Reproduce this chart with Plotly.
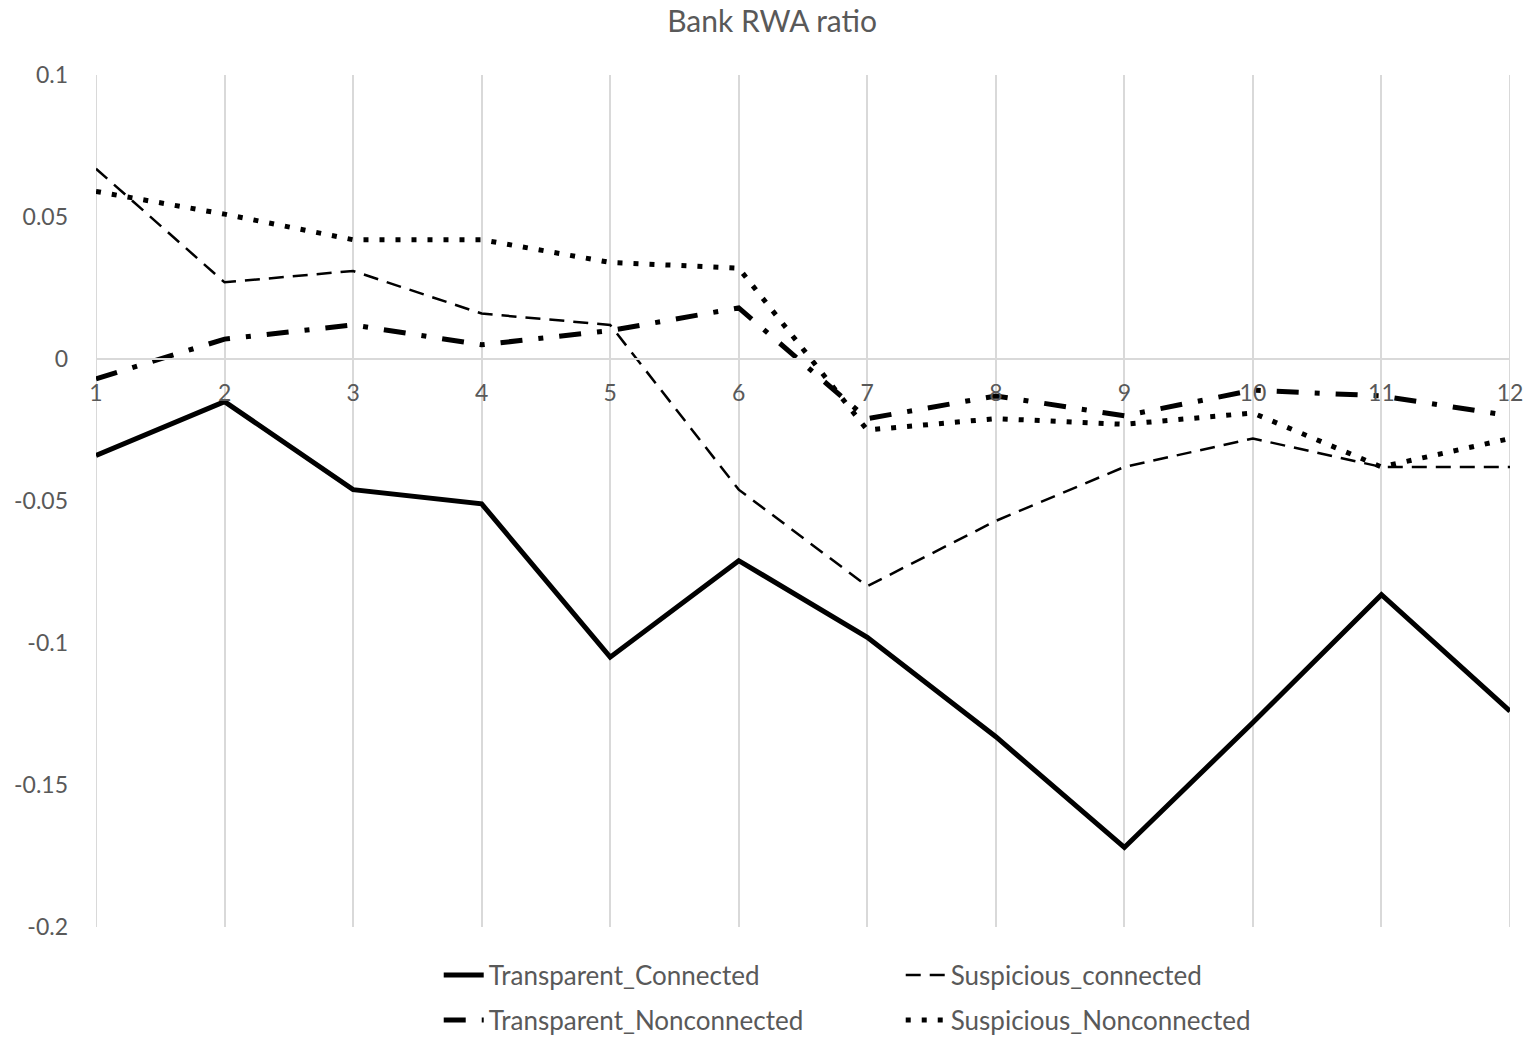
import plotly.graph_objects as go

# Period index on the x axis
periods = list(range(1, 13))
x_tick_labels = [str(p) for p in periods]

# Bank RWA ratio by group
transparent_connected = [-0.034, -0.015, -0.046, -0.051, -0.105, -0.071,
                         -0.098, -0.133, -0.172, -0.128, -0.083, -0.124]
suspicious_connected = [0.067, 0.027, 0.031, 0.016, 0.012, -0.046,
                        -0.080, -0.057, -0.038, -0.028, -0.038, -0.038]
transparent_nonconnected = [-0.007, 0.007, 0.012, 0.005, 0.010, 0.018,
                            -0.021, -0.013, -0.020, -0.011, -0.013, -0.020]
suspicious_nonconnected = [0.059, 0.051, 0.042, 0.042, 0.034, 0.032,
                           -0.025, -0.021, -0.023, -0.019, -0.038, -0.028]

y_ticks = [-0.2, -0.15, -0.1, -0.05, 0, 0.05, 0.1]
y_tick_labels = ["-0.2", "-0.15", "-0.1", "-0.05", "0", "0.05", "0.1"]

FONT = "Lato"
GREY = "#595959"
GRID = "#d9d9d9"

fig = go.Figure()

fig.add_trace(go.Scatter(
    x=periods, y=transparent_connected, mode="lines", name="Transparent_Connected",
    line=dict(color="black", width=5), legend="legend"))
fig.add_trace(go.Scatter(
    x=periods, y=suspicious_connected, mode="lines", name="Suspicious_connected",
    line=dict(color="black", width=2.5, dash="15px,9px"), legend="legend"))
fig.add_trace(go.Scatter(
    x=periods, y=transparent_nonconnected, mode="lines", name="Transparent_Nonconnected",
    line=dict(color="black", width=5, dash="22px,16px,5px,16px"), legend="legend2"))
fig.add_trace(go.Scatter(
    x=periods, y=suspicious_nonconnected, mode="lines", name="Suspicious_Nonconnected",
    line=dict(color="black", width=5, dash="5px,11px"), legend="legend2"))

# Gridlines on the first and last period sit on the plot edges; draw them in full
for edge in (periods[0], periods[-1]):
    fig.add_vline(x=edge, line=dict(color=GRID, width=2), layer="below")

y_min, y_max = -0.2, 0.1
zero_pos = (0 - y_min) / (y_max - y_min)

legend_style = dict(
    orientation="h", xref="container", yref="container",
    xanchor="left", yanchor="middle", x=0.2875,
    entrywidth=407, entrywidthmode="pixels", itemwidth=40,
    font=dict(family=FONT, size=26, color=GREY), bgcolor="rgba(0,0,0,0)",
    tracegroupgap=0)

fig.update_layout(
    width=1526, height=1037,
    margin=dict(l=96, r=16, t=75, b=110),
    paper_bgcolor="white", plot_bgcolor="white",
    title=dict(text="Bank RWA ratio", x=0.506, xanchor="center", y=0.979, yanchor="middle",
               font=dict(family=FONT, size=30, color=GREY)),
    font=dict(family=FONT, color=GREY),
    showlegend=True,
    legend=dict(legend_style, y=1 - 975 / 1037),
    legend2=dict(legend_style, y=1 - 1020 / 1037),
    xaxis=dict(
        range=[1, 12], tickmode="array", tickvals=periods, ticktext=x_tick_labels,
        showgrid=True, gridcolor=GRID, gridwidth=1.5,
        showline=True, linecolor=GRID, linewidth=2,
        anchor="free", position=zero_pos, ticks="", ticklabelstandoff=13,
        zeroline=False, automargin=False,
        tickfont=dict(family=FONT, size=23, color=GREY)),
    yaxis=dict(
        range=[y_min, y_max], tickmode="array", tickvals=y_ticks, ticktext=y_tick_labels,
        showgrid=False, zeroline=False, showline=False, ticks="", automargin=False,
        ticklabelstandoff=27, tickfont=dict(family=FONT, size=23, color=GREY)),
)

fig.write_html("out.html")
